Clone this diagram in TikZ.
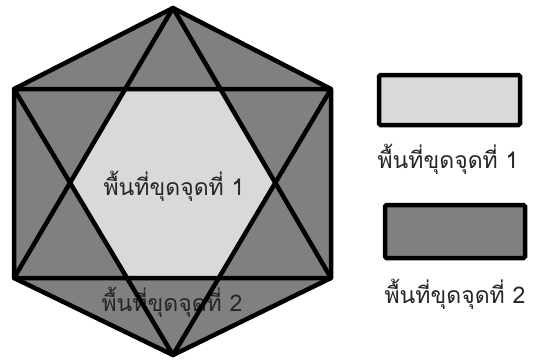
\documentclass[tikz,border=0pt]{standalone}
\usepackage{fontspec}
\newfontfamily\thaifont[Script=Thai]{Loma}
\definecolor{darkfill}{HTML}{808080}
\definecolor{lightfill}{HTML}{D9D9D9}
\begin{document}
\begin{tikzpicture}[x=1pt,y=-1pt,
  edge/.style={line width=4.5pt,line join=round,line cap=round},
  lbl/.style={font=\thaifont\fontsize{23}{26}\selectfont,text=black!85,inner sep=0pt}]
\useasboundingbox (0,0) rectangle (534,361);
\coordinate (T) at (173,8);
\coordinate (UR) at (331,89);
\coordinate (LR) at (331,278);
\coordinate (B) at (173,355);
\coordinate (LL) at (14,278);
\coordinate (UL) at (14,89);
\coordinate (i1) at (126,89);
\coordinate (i2) at (220,89);
\coordinate (i3) at (276,183);
\coordinate (i4) at (220,278);
\coordinate (i5) at (126,278);
\coordinate (i6) at (71,183);
\fill[darkfill] (T) -- (UR) -- (LR) -- (B) -- (LL) -- (UL) -- cycle;
\fill[lightfill] (i1) -- (i2) -- (i3) -- (i4) -- (i5) -- (i6) -- cycle;
\node[lbl] (t1) at (174,186) {พื้นที่ขุดจุดที่ 1};
\node[lbl] (t2) at (172,302) {พื้นที่ขุดจุดที่ 2};
\draw[edge] (T) -- (UR) -- (LR) -- (B) -- (LL) -- (UL) -- cycle;
\draw[edge] (T) -- (LL) -- (LR) -- cycle;
\draw[edge] (B) -- (UL) -- (UR) -- cycle;
\node[draw,line width=4.5pt,fill=lightfill,rounded corners=1.5pt,minimum width=141pt,minimum height=50pt,inner sep=0pt] (k1) at (449.5,100) {};
\node[lbl] (k1t) at (448,159) {พื้นที่ขุดจุดที่ 1};
\node[draw,line width=4.5pt,fill=darkfill,rounded corners=1.5pt,minimum width=140pt,minimum height=53pt,inner sep=0pt] (k2) at (455,231.5) {};
\node[lbl] (k2t) at (455,294) {พื้นที่ขุดจุดที่ 2};
\end{tikzpicture}
\end{document}
